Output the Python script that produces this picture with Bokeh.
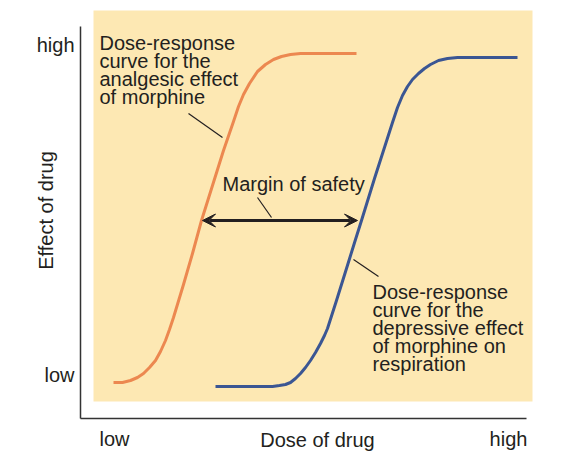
from bokeh.plotting import figure
from bokeh.models import Range1d, Arrow, VeeHead, FixedTicker
from bokeh.core.properties import value
from bokeh.embed import file_html
from bokeh.resources import INLINE

# ---- data (dose on x, effect on y; arbitrary units) ----
analgesic_dose = [33, 42, 50, 57, 63, 69, 75, 80, 85, 89, 93, 103, 112, 121, 132, 143,
                  153, 158, 163, 169, 177, 185, 193, 201, 210, 220, 276]
analgesic_effect = [36, 36, 38, 41, 45, 51, 58, 67, 78, 89, 101, 134, 165, 198, 233, 268,
                    297, 312, 324, 335, 347, 354, 359, 362, 364, 365, 365]

respiration_dose = [135, 192, 199, 205, 210, 215, 220, 225, 230, 235, 240, 244, 247, 256, 266,
                    275, 281, 294, 303, 312, 317, 322, 327, 332, 338, 344, 350, 358, 367, 377, 437]
respiration_effect = [32, 32, 33, 34, 36, 40, 45, 51, 58, 66, 75, 83, 90, 118, 150,
                      179, 198, 240, 268, 296, 311, 323, 332, 339, 345, 350, 354, 358, 360, 361, 361]

x_ticks = [34, 428]
x_tick_labels = ["low", "high"]
y_ticks = [44, 374]
y_tick_labels = ["low", "high"]

margin_level = 198
margin_from = 122
margin_to = 277

FONT = "Liberation Sans"
TXT = "#231f20"
ORANGE = "#ec8850"
BLUE = "#3b5693"
BG = "#fde8b3"
AXIS = "#333333"

p = figure(width=567, height=468, x_range=Range1d(0, 474), y_range=Range1d(0, 416),
           output_backend="svg", toolbar_location=None,
           min_border_left=80, min_border_right=13, min_border_top=2, min_border_bottom=50)
p.outline_line_color = None
p.grid.visible = False
p.background_fill_color = "white"
p.border_fill_color = "white"

# shaded panel
p.quad(left=13, right=452, bottom=17, top=408, fill_color=BG, line_color=None)

# curves
p.line(analgesic_dose, analgesic_effect, line_color=ORANGE, line_width=3, line_join="round")
p.line(respiration_dose, respiration_effect, line_color=BLUE, line_width=3, line_join="round")

# margin of safety arrow
head = dict(size=13, fill_color=TXT, line_color=TXT, line_width=1)
p.add_layout(Arrow(start=VeeHead(**head), end=VeeHead(**head),
                   x_start=margin_from, y_start=margin_level, x_end=margin_to, y_end=margin_level,
                   line_color=TXT, line_width=3))

# leader lines
p.segment(x0=[108, 177, 273], y0=[305, 221, 159], x1=[142, 191, 298], y1=[281, 201, 142],
          line_color=TXT, line_width=1.2)

# annotations
p.text(x=[19, 142, 292], y=[387, 246, 138],
       text=["Dose-response\ncurve for the\nanalgesic effect\nof morphine",
             "Margin of safety",
             "Dose-response\ncurve for the\ndepressive effect\nof morphine on\nrespiration"],
       text_font=value(FONT), text_font_size="20px", text_color=TXT,
       text_align="left", text_baseline="top", text_line_height=0.82)

# axes
for ax in (p.xaxis, p.yaxis):
    ax.axis_line_color = AXIS
    ax.axis_line_width = 1.5
    ax.major_tick_line_color = None
    ax.minor_tick_line_color = None
    ax.major_tick_out = 0
    ax.major_tick_in = 0
    ax.major_label_text_font = FONT
    ax.major_label_text_font_size = "20px"
    ax.major_label_text_color = TXT
    ax.axis_label_text_font = FONT
    ax.axis_label_text_font_size = "20px"
    ax.axis_label_text_font_style = "normal"
    ax.axis_label_text_color = TXT

p.xaxis.ticker = FixedTicker(ticks=x_ticks)
p.xaxis.major_label_overrides = dict(zip(x_ticks, x_tick_labels))
p.xaxis.bounds = (0, 446)
p.xaxis.major_label_standoff = 9
p.xaxis.axis_label = "Dose of drug"
p.xaxis.axis_label_standoff = -24

p.yaxis.ticker = FixedTicker(ticks=y_ticks)
p.yaxis.major_label_overrides = dict(zip(y_ticks, y_tick_labels))
p.yaxis.bounds = (0, 392)
p.yaxis.major_label_standoff = 6
p.yaxis.axis_label = "Effect of drug"
p.yaxis.axis_label_standoff = -23

open("out.html", "w").write(file_html(p, INLINE))
